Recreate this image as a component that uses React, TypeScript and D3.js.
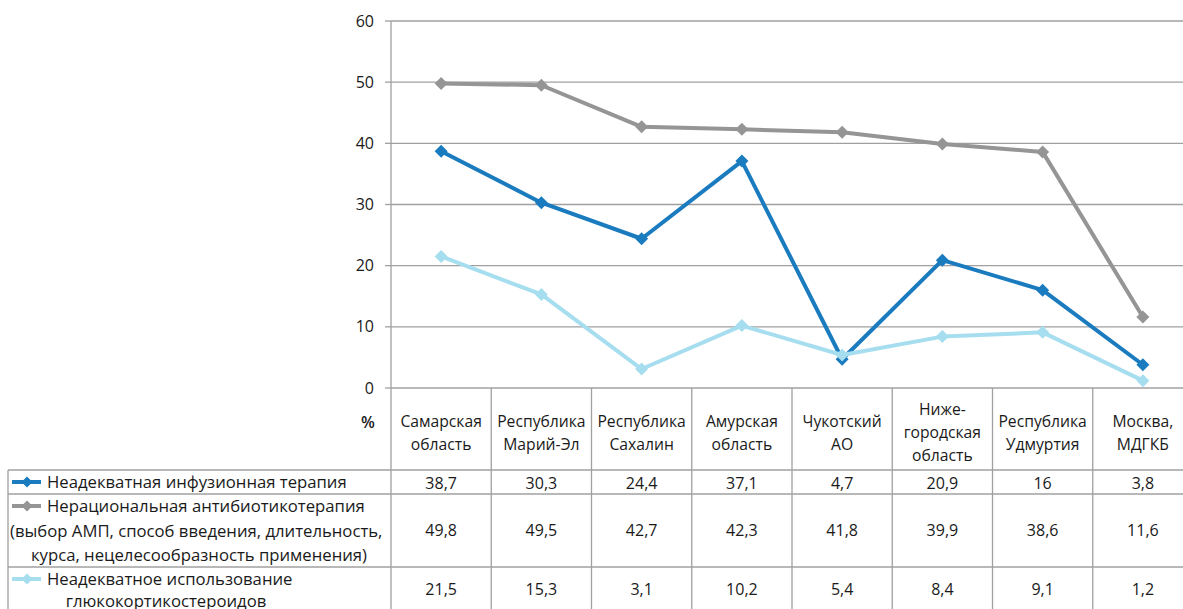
import React from "react";
import * as d3 from "d3";

const categories: string[][] = [
  ["Самарская", "область"],
  ["Республика", "Марий-Эл"],
  ["Республика", "Сахалин"],
  ["Амурская", "область"],
  ["Чукотский", "АО"],
  ["Ниже-", "городская", "область"],
  ["Республика", "Удмуртия"],
  ["Москва,", "МДГКБ"],
];
const infusion = [38.7, 30.3, 24.4, 37.1, 4.7, 20.9, 16, 3.8];
const antibiotic = [49.8, 49.5, 42.7, 42.3, 41.8, 39.9, 38.6, 11.6];
const gluco = [21.5, 15.3, 3.1, 10.2, 5.4, 8.4, 9.1, 1.2];
const yTicks = [0, 10, 20, 30, 40, 50, 60];
const seriesNames: string[][] = [
  ["Неадекватная инфузионная терапия"],
  ["Нерациональная антибиотикотерапия", "(выбор АМП, способ введения, длительность,", "курса, нецелесообразность применения)"],
  ["Неадекватное использование", "глюкокортикостероидов"],
];
const colors = ["#1a7bbf", "#959595", "#a6def0"];

const W = 1183;
const H = 609;
const FONT = "'Open Sans', sans-serif";

export default function App() {
  const left = 391;
  const colW = 100.25;
  const x = d3
    .scaleBand<number>()
    .domain(d3.range(categories.length))
    .range([left, left + colW * categories.length]);
  const y = d3.scaleLinear().domain([0, 60]).range([388, 21]);
  const series = [infusion, antibiotic, gluco];
  const line = d3
    .line<number>()
    .x((_, i) => (x(i) as number) + x.bandwidth() / 2)
    .y((d) => y(d));
  const diamond = (r: number) => `M0,${-r}L${r},0L0,${r}L${-r},0Z`;

  const tableTop = 470;
  const rowBounds = [470, 494, 567, 640];
  const rowValueY = [483, 530, 589];
  const gridColor = "#a0a0a0";
  const right = W + 20;
  const textColor = "#1a1a1a";

  // legend text placement: [x, y, anchor] per line
  const legendPos: [number, number, string][][] = [
    [[47, 482, "start"]],
    [
      [47, 506, "start"],
      [10, 531, "start"],
      [199, 555, "middle"],
    ],
    [
      [47, 579, "start"],
      [166, 601, "middle"],
    ],
  ];
  const keyY = [482, 506, 579];

  return (
    <svg
      width={W}
      height={H}
      style={{ position: "absolute", left: 0, top: 0, background: "#fff" }}
      fontFamily={FONT}
    >
      <defs>
        <clipPath id="legendClip">
          <rect x={8} y={0} width={left - 8} height={H} />
        </clipPath>
      </defs>
      <rect width={W} height={H} fill="#fff" />
      {/* gridlines */}
      {yTicks.map((t) => (
        <g key={t}>
          <line x1={left} x2={right} y1={y(t)} y2={y(t)} stroke={gridColor} strokeWidth={1.3} />
          <line x1={left - 6} x2={left} y1={y(t)} y2={y(t)} stroke={gridColor} strokeWidth={1.3} />
          <text x={374} y={y(t)} dy="0.35em" textAnchor="end" fontSize={16} fill={textColor}>
            {t}
          </text>
        </g>
      ))}
      {/* vertical axis */}
      <line x1={left} x2={left} y1={y(60)} y2={H} stroke={gridColor} strokeWidth={1.3} />
      {/* category column borders */}
      {d3.range(1, categories.length + 1).map((i) => (
        <line
          key={i}
          x1={left + i * colW}
          x2={left + i * colW}
          y1={y(0)}
          y2={H}
          stroke={gridColor}
          strokeWidth={1.3}
        />
      ))}
      {/* table horizontal lines */}
      {rowBounds.map((b) => (
        <line key={b} x1={8} x2={right} y1={b} y2={b} stroke={gridColor} strokeWidth={1.3} />
      ))}
      <line x1={8} x2={8} y1={tableTop} y2={H} stroke={gridColor} strokeWidth={1.3} />
      {/* % label */}
      <text x={368} y={422} dy="0.35em" textAnchor="middle" fontSize={16} fontWeight={600} fill={textColor}>
        %
      </text>
      {/* category labels */}
      {categories.map((c, i) => {
        const cx = (x(i) as number) + x.bandwidth() / 2;
        const lh = 23;
        const startY = 433 - ((c.length - 1) * lh) / 2;
        return (
          <text key={i} textAnchor="middle" fontSize={15.7} fill={textColor}>
            {c.map((s, j) => (
              <tspan key={j} x={cx} y={startY + j * lh} dy="0.35em">
                {s}
              </tspan>
            ))}
          </text>
        );
      })}
      {/* data values */}
      {series.map((vals, si) =>
        vals.map((v, i) => (
          <text
            key={`${si}-${i}`}
            x={(x(i) as number) + x.bandwidth() / 2}
            y={rowValueY[si]}
            dy="0.35em"
            textAnchor="middle"
            fontSize={16}
            fill={textColor}
          >
            {String(v).replace(".", ",")}
          </text>
        ))
      )}
      {/* legend cells */}
      <g clipPath="url(#legendClip)">
        {seriesNames.map((lines, si) => (
          <g key={si}>
            <line x1={12} x2={41} y1={keyY[si]} y2={keyY[si]} stroke={colors[si]} strokeWidth={4} />
            <path d={diamond(5.5)} transform={`translate(27,${keyY[si]})`} fill={colors[si]} />
            {lines.map((s, j) => {
              const [lx, ly, anchor] = legendPos[si][j];
              return (
                <text
                  key={j}
                  x={lx}
                  y={ly}
                  dy="0.35em"
                  textAnchor={anchor as "start" | "middle"}
                  fontSize={16.7}
                  fill={textColor}
                >
                  {s}
                </text>
              );
            })}
          </g>
        ))}
      </g>
      {/* series lines */}
      {series.map((vals, si) => (
        <g key={si}>
          <path d={line(vals) || ""} fill="none" stroke={colors[si]} strokeWidth={4} strokeLinejoin="round" />
          {vals.map((v, i) => (
            <path
              key={i}
              d={diamond(6.5)}
              transform={`translate(${(x(i) as number) + x.bandwidth() / 2},${y(v)})`}
              fill={colors[si]}
            />
          ))}
        </g>
      ))}
    </svg>
  );
}
